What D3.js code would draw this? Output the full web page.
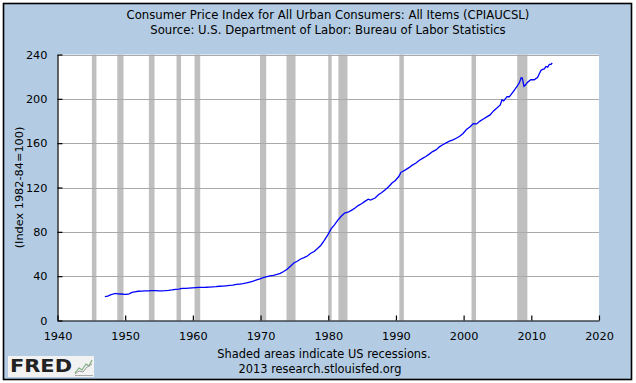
<!DOCTYPE html>
<html>
<head>
<meta charset="utf-8">
<script src="https://cdn.jsdelivr.net/npm/d3@7"></script>
<style>
  html, body { margin: 0; padding: 0; background: #ffffff; }
  svg { display: block; }
  text { font-family: "DejaVu Sans", Verdana, sans-serif; }
</style>
</head>
<body>
<svg id="chart" width="636" height="383"></svg>
<script>
// ---- Data ----
const titleLines = [
  "Consumer Price Index for All Urban Consumers: All Items (CPIAUCSL)",
  "Source: U.S. Department of Labor: Bureau of Labor Statistics"
];
const yAxisLabel = "(Index 1982-84=100)";
const footerLines = ["Shaded areas indicate US recessions.", "2013 research.stlouisfed.org"];
const xTicks = [1940, 1950, 1960, 1970, 1980, 1990, 2000, 2010, 2020];
const yTicks = [0, 40, 80, 120, 160, 200, 240];

const recessionStarts = ["1945-02","1948-11","1953-07","1957-08","1960-04","1969-12","1973-11","1980-01","1981-07","1990-07","2001-03","2007-12"];
const recessionEnds   = ["1945-10","1949-10","1954-05","1958-04","1961-02","1970-11","1975-03","1980-07","1982-11","1991-03","2001-11","2009-06"];

const cpiDates = [
  "1947-01","1947-06","1947-12","1948-03","1948-08","1948-12","1949-06","1949-12","1950-03","1950-08",
  "1951-01","1951-06","1951-12","1952-06","1952-12","1953-06","1953-12","1954-06","1954-12","1955-06",
  "1955-12","1956-06","1956-12","1957-06","1957-12","1958-06","1958-12","1959-06","1959-12","1960-06",
  "1960-12","1961-06","1961-12","1962-06","1962-12","1963-06","1963-12","1964-06","1964-12","1965-06",
  "1965-12","1966-06","1966-12","1967-06","1967-12","1968-06","1968-12","1969-06","1969-12","1970-06",
  "1970-12","1971-06","1971-12","1972-06","1972-12","1973-06","1973-12","1974-06","1974-12","1975-06",
  "1975-12","1976-06","1976-12","1977-06","1977-12","1978-06","1978-12","1979-06","1979-12","1980-06",
  "1980-12","1981-06","1981-12","1982-06","1982-12","1983-06","1983-12","1984-06","1984-12","1985-06",
  "1985-12","1986-04","1986-12","1987-06","1987-12","1988-06","1988-12","1989-06","1989-12","1990-06",
  "1990-10","1990-12","1991-06","1991-12","1992-06","1992-12","1993-06","1993-12","1994-06","1994-12",
  "1995-06","1995-12","1996-06","1996-12","1997-06","1997-12","1998-06","1998-12","1999-06","1999-12",
  "2000-06","2000-12","2001-06","2001-12","2002-06","2002-12","2003-06","2003-12","2004-06","2004-12",
  "2005-06","2005-09","2005-12","2006-06","2006-10","2006-12","2007-06","2007-12","2008-04","2008-07",
  "2008-09","2008-12","2009-03","2009-06","2009-12","2010-06","2010-12","2011-06","2011-09","2011-12",
  "2012-03","2012-06","2012-09","2012-12","2013-02"
];
const cpiValues = [
  21.5, 22.0, 23.4, 23.7, 24.4, 24.0, 23.9, 23.6, 23.6, 24.1,
  25.4, 25.9, 26.4, 26.5, 26.7, 26.8, 26.9, 26.9, 26.7, 26.8,
  26.9, 27.2, 27.6, 28.1, 28.4, 28.9, 28.9, 29.2, 29.4, 29.6,
  29.8, 29.9, 30.0, 30.2, 30.4, 30.6, 30.9, 31.0, 31.3, 31.6,
  31.9, 32.5, 32.9, 33.3, 33.9, 34.7, 35.5, 36.6, 37.5, 38.8,
  39.6, 40.3, 40.8, 41.6, 42.5, 44.2, 46.3, 49.0, 51.9, 53.5,
  55.5, 56.8, 58.2, 60.7, 62.3, 65.0, 67.9, 72.3, 77.0, 82.7,
  86.3, 90.6, 94.0, 96.9, 97.7, 99.4, 101.3, 103.7, 105.3, 107.5,
  109.5, 108.7, 110.5, 113.5, 115.4, 118.0, 120.7, 124.1, 126.3, 129.9,
  133.8, 134.2, 135.9, 137.9, 140.2, 141.9, 144.4, 146.3, 148.0, 150.1,
  152.4, 153.9, 156.7, 158.6, 160.3, 161.8, 163.0, 164.4, 166.2, 168.8,
  172.3, 174.6, 177.5, 177.4, 179.9, 181.8, 183.7, 185.5, 189.1, 191.7,
  194.5, 199.1, 198.1, 202.0, 201.9, 203.1, 207.2, 211.4, 214.7, 219.0,
  218.8, 211.4, 212.7, 214.8, 217.2, 217.2, 219.2, 225.7, 226.6, 227.0,
  229.2, 228.6, 231.0, 231.1, 232.3
];

// ---- Layout ----
const W = 636, H = 383;
const plot = { left: 57.5, right: 599, top: 54.5, bottom: 320.5 };
const toYear = s => { const [y, m] = s.split("-").map(Number); return y + (m - 1) / 12; };

const svg = d3.select("#chart");

// outer frame and background
svg.append("rect").attr("x", 0).attr("y", 0).attr("width", W).attr("height", H).attr("fill", "#ffffff");
svg.append("rect").attr("x", 3.5).attr("y", 3.5).attr("width", 628).attr("height", 376)
  .attr("fill", "#b3cce4").attr("stroke", "#000").attr("stroke-width", 1.6);

const x = d3.scaleLinear().domain([1940, 2020]).range([plot.left, plot.right]);
const y = d3.scaleLinear().domain([0, 240]).range([plot.bottom, plot.top]);

// plot area
svg.append("rect").attr("x", plot.left).attr("y", plot.top)
  .attr("width", plot.right - plot.left).attr("height", plot.bottom - plot.top).attr("fill", "#ffffff");

// recession bands
svg.append("g").selectAll("rect").data(recessionStarts.map((s, i) => [toYear(s), toYear(recessionEnds[i])]))
  .join("rect")
  .attr("x", d => x(d[0]))
  .attr("width", d => Math.max(2, x(d[1]) - x(d[0])))
  .attr("y", plot.top).attr("height", plot.bottom - plot.top)
  .attr("fill", "#bfbfbf");

// gridlines
svg.append("g").selectAll("line").data(yTicks.filter(t => t > 0)).join("line")
  .attr("x1", plot.left).attr("x2", plot.right)
  .attr("y1", d => Math.round(y(d)) + 0.5).attr("y2", d => Math.round(y(d)) + 0.5)
  .attr("stroke", "#aaaaaa").attr("stroke-width", 1);

// series line
const pts = cpiDates.map((d, i) => [toYear(d), cpiValues[i]]);
svg.append("path").datum(pts)
  .attr("fill", "none").attr("stroke", "#0000ff").attr("stroke-width", 1.3)
  .attr("d", d3.line().x(d => x(d[0])).y(d => y(d[1])));

// axes
const yAxis = d3.axisLeft(y).tickValues(yTicks).tickSizeInner(-5).tickSizeOuter(0).tickPadding(10);
const gy = svg.append("g").attr("transform", `translate(${plot.left},0)`).call(yAxis);
const xAxis = d3.axisBottom(x).tickValues(xTicks).tickFormat(d3.format("d")).tickSizeInner(-5).tickSizeOuter(0).tickPadding(11);
const gx = svg.append("g").attr("transform", `translate(0,${plot.bottom})`).call(xAxis);
[gx, gy].forEach(g => {
  g.select(".domain").attr("stroke", "#000").attr("stroke-width", 1.2);
  g.selectAll(".tick line").attr("stroke", "#000").attr("stroke-width", 1.2);
  g.selectAll(".tick text").attr("fill", "#000").attr("font-size", 11.3)
    .attr("font-family", '"DejaVu Sans", Verdana, sans-serif');
});

// titles
svg.append("g").selectAll("text").data(titleLines).join("text")
  .attr("x", 328).attr("y", (d, i) => 19 + i * 14.5)
  .attr("text-anchor", "middle").attr("font-size", 11.7).attr("fill", "#000")
  .text(d => d);

// y axis label
svg.append("text")
  .attr("transform", `translate(23,${(plot.top + plot.bottom) / 2}) rotate(-90)`)
  .attr("text-anchor", "middle").attr("font-size", 11.3).attr("fill", "#000")
  .text(yAxisLabel);

// footer
svg.append("g").selectAll("text").data(footerLines).join("text")
  .attr("x", (d, i) => i === 0 ? 324 : 320).attr("y", (d, i) => 358 + i * 15)
  .attr("text-anchor", "middle").attr("font-size", 11.4).attr("fill", "#000")
  .text(d => d);

// FRED logo
const logo = svg.append("g");
logo.append("rect").attr("x", 8).attr("y", 356).attr("width", 86).attr("height", 21).attr("fill", "#f2f2f2");
logo.append("text").attr("x", 10).attr("y", 371.5).attr("font-size", 17).attr("font-weight", "bold")
  .attr("font-family", '"Liberation Sans", Arial, sans-serif').attr("fill", "#222")
  .attr("textLength", 62).attr("lengthAdjust", "spacingAndGlyphs").text("FRED");
logo.append("path").attr("d", "M75,373 L79,368 L82,370 L86,364 L89,366 L92,360")
  .attr("fill", "none").attr("stroke", "#7fae7f").attr("stroke-width", 1.2);
logo.append("path").attr("d", "M75,374 L79,371 L83,372 L87,367 L92,364")
  .attr("fill", "none").attr("stroke", "#9a9a9a").attr("stroke-width", 1);
logo.append("line").attr("x1", 75).attr("x2", 93).attr("y1", 375.5).attr("y2", 375.5).attr("stroke", "#aaa");
</script>
</body>
</html>
